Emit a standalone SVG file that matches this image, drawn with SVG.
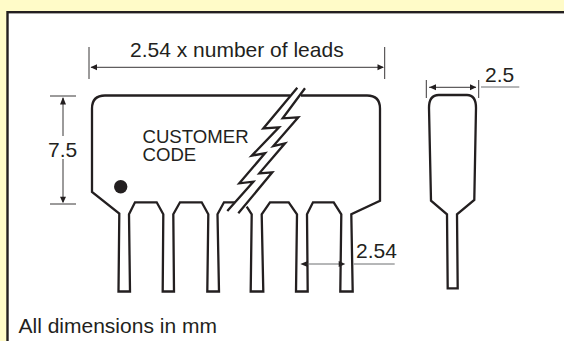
<svg xmlns="http://www.w3.org/2000/svg" width="564" height="341" viewBox="0 0 564 341">
<style>
.o{fill:none;stroke:#231f20;stroke-width:2.3}
.d{fill:none;stroke:#231f20;stroke-width:.9}
.g{fill:none;stroke:#6d6e70;stroke-width:1}
.a{fill:#231f20}
text{font-family:"Liberation Sans",Arial,sans-serif;fill:#231f20;font-size:21px}
</style>
<rect width="564" height="341" fill="#fffbc8"/>
<rect x="7.5" y="12.2" width="560" height="335" fill="#fff" stroke="#231f20" stroke-width="2.4"/>
<g id="body"><path class="o" d="M290 95.500H105Q92 95.500 92 108.500V192L119.300 213.500L118.500 291.500H130L129 214.300L135 202.300H156.700L163.300 214.300L162.700 291.500H174L173.300 214.300L180 202.300H201.700L208.300 214.300L207.300 291.500H219L217.500 214.300L224 202.300H235M246.700 206.700L251.700 214.300L250.700 291.500H263.300L261.700 214.300L270 202.300H288.700L297 214.300L296 291.500H307.700L307 214.300L313 202.300H333.700L341.300 214.300L340.300 291.500H352.700L351.300 214.300L380 200.700V108.500Q380 95.500 367 95.500H301"/><circle cx="120.700" cy="186.700" r="6.700" class="a"/></g>
<g id="break"><path class="o" d="M297.300 87.700L263.300 128.500L279 127.300L251.700 155.700L265 153.300L239.300 183.300L253.300 181.700L227.300 211M305 88.300L282.700 118.300L298.300 117.300L273.300 146L285 143.300L259.300 173.300L272.300 172.300L238.300 213.300"/></g>
<g id="side"><path class="o" d="M438.700 95H467Q476 95 476 108L474.300 200L457 214.300L457.700 288.300H447.700L447 214.300L431 200.700L429 108Q429 95 438.700 95Z"/></g>
<g id="dims">
<path class="d" d="M89 47V79M384.700 47V79M91 67.300H383M50 96H76M50 204H76M63 98V136M63 159V202M426.300 80V98M478.700 80V98M429 87.300H476"/>
<path class="g" d="M481 87H519.300M353.700 264H394.700M305 264H340"/>
<path class="a" d="M90.500 67.300l6.500-3v6zM384 67.300l-6.500-3v6zM63 97l-3 7.500h6zM63 203.300l-3-6.500h6zM429.300 87.300l6.700-3v6zM476.300 87.300l-6.300-3v6zM300.300 264l7.400-3v6zM345.300 264l-6.600-3v6z"/>
</g>
<g id="labels">
<text x="130" y="56.700">2.54 x number of leads</text>
<text x="48" y="156.700">7.5</text>
<text x="142.500" y="142.700" style="font-size:18.600px">CUSTOMER</text>
<text x="142.500" y="161" style="font-size:18.600px">CODE</text>
<text x="485" y="81.700">2.5</text>
<text x="356" y="258.300">2.54</text>
<text x="18.500" y="333.300">All dimensions in mm</text>
</g>
</svg>
